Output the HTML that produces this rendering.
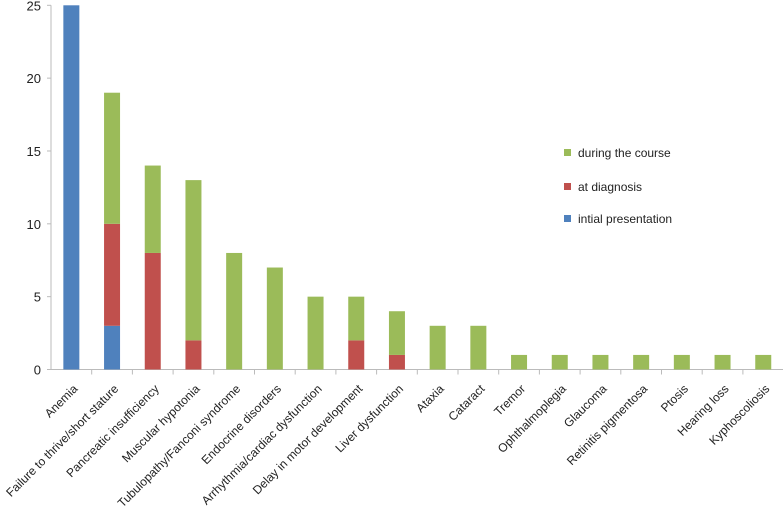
<!DOCTYPE html>
<html><head><meta charset="utf-8"><style>
body{margin:0;background:#fff}
svg text{font-family:"Liberation Sans",sans-serif;fill:#222}
</style></head><body>
<svg id="c" width="783" height="514"></svg>
<script>
const categories=["Anemia","Failure to thrive/short stature","Pancreatic insufficiency","Muscular hypotonia","Tubulopathy/Fanconi syndrome","Endocrine disorders","Arrhythmia/cardiac dysfunction","Delay in motor development","Liver dysfunction","Ataxia","Cataract","Tremor","Ophthalmoplegia","Glaucoma","Retinitis pigmentosa","Ptosis","Hearing loss","Kyphoscoliosis"];
const initial=[25,3,0,0,0,0,0,0,0,0,0,0,0,0,0,0,0,0];
const diagnosis=[0,7,8,2,0,0,0,2,1,0,0,0,0,0,0,0,0,0];
const course=[0,9,6,11,8,7,5,3,3,3,3,1,1,1,1,1,1,1];
const yTicks=[0,5,10,15,20,25];
const ns="http://www.w3.org/2000/svg",svg=document.getElementById("c");
const X0=51,Y0=369.5,Y1=5.3,W=40.7,BW=16;
const y=v=>Y0-(v/25)*(Y0-Y1);
const x=i=>X0+W*i+W/2;
function mk(t,a){const e=document.createElementNS(ns,t);for(const k in a)e.setAttribute(k,a[k]);svg.appendChild(e);return e;}
let e=mk("line",{x1:X0,y1:Y1,x2:X0,y2:Y0,stroke:"#bbb"});


e=mk("line",{x1:X0,y1:Y0,x2:783,y2:Y0,stroke:"#bbb"});


yTicks.forEach(t=>{
 mk("line",{x1:X0-4,y1:y(t),x2:X0,y2:y(t),stroke:"#bbb"});
 const tx=mk("text",{x:X0-10,y:y(t)+5,"text-anchor":"end","font-size":"13"});tx.textContent=t;
 
 
});
const series=[[initial,"#4f81bd","initial"],[diagnosis,"#c0504d","diagnosis"],[course,"#9bbb59","course"]];
categories.forEach((c,i)=>{
 mk("line",{x1:X0+W*(i+1),y1:Y0,x2:X0+W*(i+1),y2:Y0+5,stroke:"#bbb"});
 let base=0;
 series.forEach(([arr,col,n])=>{
  const v=arr[i];if(v>0){
   const r=mk("rect",{x:x(i)-BW/2,y:y(base+v),width:BW,height:y(base)-y(base+v),fill:col});
   
   
  }
  base+=v;});
 const t=mk("text",{transform:`translate(${x(i)+7},${Y0+20}) rotate(-45)`,"text-anchor":"end","font-size":"12"});
 t.textContent=c;
 
 
});
[["during the course","#9bbb59",153],["at diagnosis","#c0504d",187],["intial presentation","#4f81bd",219]].forEach(([l,col,yy])=>{
 const r=mk("rect",{x:564,y:yy-4,width:7,height:7,fill:col});
 
 
 const t=mk("text",{x:578,y:yy+4,"font-size":"12"});t.textContent=l;
 
 
});
</script>
</body></html>
